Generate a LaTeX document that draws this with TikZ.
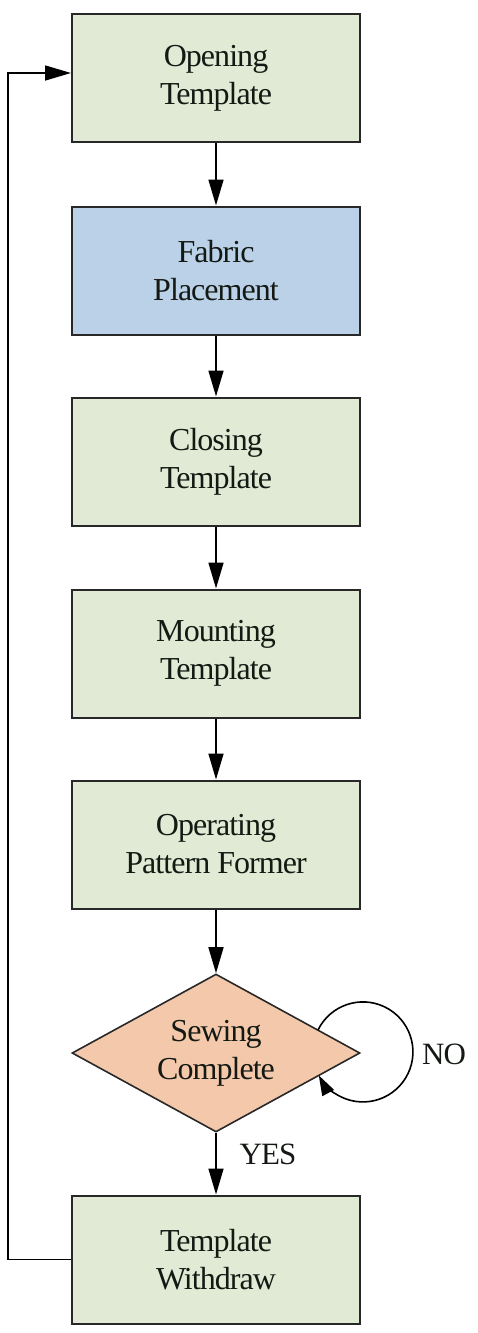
\documentclass[tikz,border=0pt]{standalone}
\usepackage{fontspec}
\setmainfont{Liberation Serif}[LetterSpace=-3]
\usetikzlibrary{shapes.geometric,arrows.meta,calc}
\definecolor{boxgreen}{RGB}{224,234,212}
\definecolor{boxblue}{RGB}{186,209,232}
\definecolor{boxorange}{RGB}{244,201,171}
\definecolor{edge}{RGB}{40,40,40}
\definecolor{txt}{RGB}{20,25,20}
\begin{document}
\begin{tikzpicture}[x=1pt,y=1pt,
  stepbox/.style={draw=edge,line width=2pt,fill=boxgreen,minimum width=288pt,minimum height=128pt,
    align=center,text=txt,font=\fontsize{32}{38}\selectfont,inner sep=0pt},
  decide/.style={draw=edge,line width=1.6pt,fill=boxorange,diamond,aspect=1.82,minimum width=288pt,minimum height=158pt,
    align=center,text=txt,font=\fontsize{32}{38}\selectfont,inner sep=0pt},
  lbl/.style={font=\fontsize{31}{34}\selectfont,inner sep=0pt,text=txt},
  conn/.style={line width=1.6pt,-{Triangle[length=26pt,width=15pt]}},
  sconn/.style={line width=1.6pt,-{Triangle[length=20pt,width=13pt]}}]
\useasboundingbox (0,0) rectangle (478,-1333);
\node[stepbox] (open) at (216,-78) {Opening\\Template};
\node[stepbox,fill=boxblue] (fab) at (216,-270.5) {Fabric\\Placement};
\node[stepbox] (close) at (216,-461.5) {Closing\\Template};
\node[stepbox] (mount) at (216,-653.5) {Mounting\\Template};
\node[stepbox] (oper) at (216,-844.5) {Operating\\Pattern Former};
\node[decide] (sew) at (216,-1053) {Sewing\\Complete};
\node[stepbox] (wd) at (216,-1259.5) {Template\\Withdraw};
\draw[conn] (open) -- (fab);
\draw[conn] (fab) -- (close);
\draw[conn] (close) -- (mount);
\draw[conn] (mount) -- (oper);
\draw[conn] (oper) -- (sew);
\draw[conn] (sew) -- (wd);
\node[lbl] (yes) at (268,-1154) {YES};
\coordinate (ls) at (318,-1030);
\draw[sconn] (ls) arc[start angle=154,end angle=-152,radius=50];
\node[lbl] (no) at (444,-1054) {NO};
\coordinate (corner) at (8,0);
\draw[conn] (wd.west) -- (wd.west -| corner) |- ([yshift=5pt]open.west);
\end{tikzpicture}
\end{document}
